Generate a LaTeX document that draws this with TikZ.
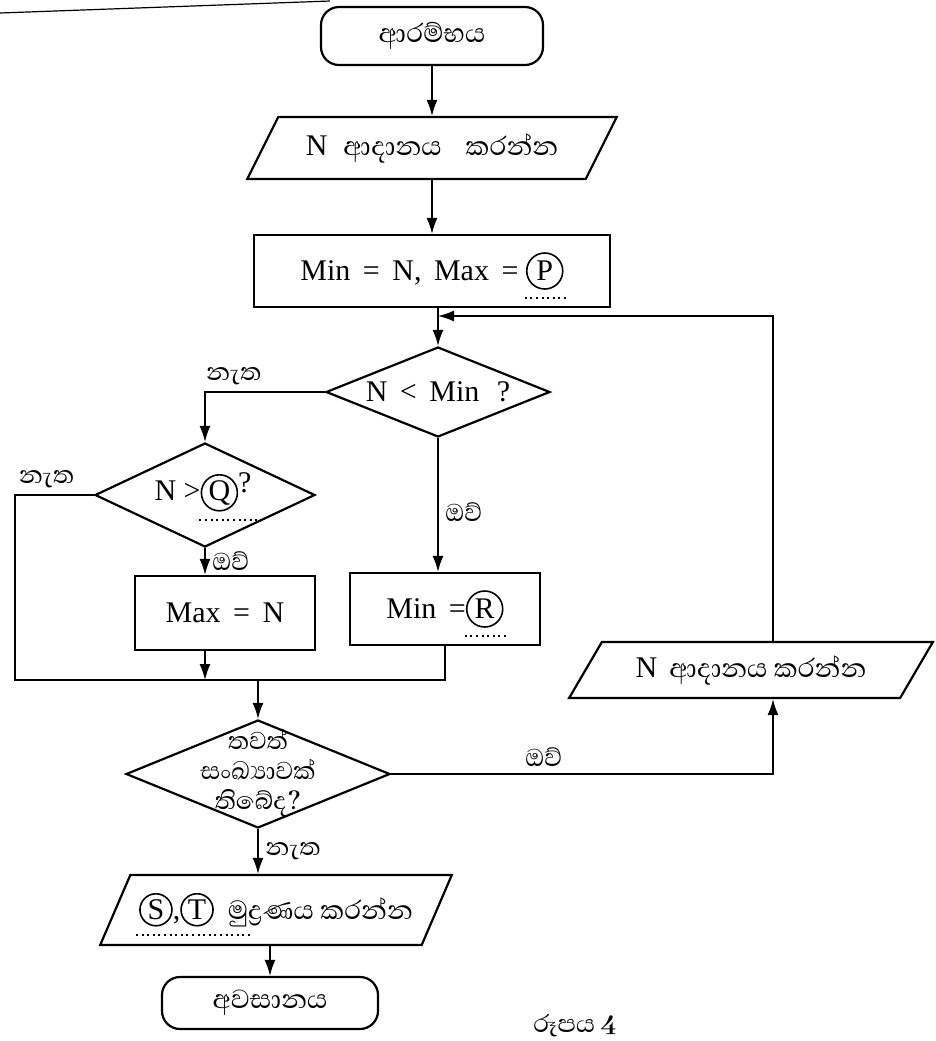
\documentclass[tikz,border=0pt]{standalone}
\usepackage{fontspec}
\setmainfont{Liberation Serif}
\newfontfamily\slfont[Script=Sinhala,Scale=1.12]{Abhaya Libre}
\usetikzlibrary{arrows.meta,shapes.geometric}

% circled answer blank with a dotted line under it
\NewDocumentCommand\blank{O{17pt} O{20pt} m}{\tikz[baseline=(bk.base)]{%
  \node[draw,circle,line width=0.8pt,inner sep=0pt,minimum size=#1] (bk) {#3};
  \draw[overlay,line width=1pt,dash pattern=on 1pt off 1.8pt] (bk.south) ++(-10pt,-4pt) -- ++(#2,0pt);}}

\begin{document}
\begin{tikzpicture}[x=0.5pt,y=-0.5pt, font=\fontsize{15}{18}\selectfont,
  >={Latex[length=8pt,width=5.5pt]}, line width=0.8pt,
  term/.style={draw,line width=1.1pt,rounded corners=9pt,minimum width=111pt,
    minimum height=29pt,font=\fontsize{15}{18}\slfont},
  iobox/.style={draw,line width=1.1pt,trapezium,trapezium left angle=58,
    trapezium right angle=122,trapezium stretches=true},
  procbox/.style={draw,line width=1.1pt},
  decbox/.style={draw,line width=1.1pt,diamond},
  sl/.style={font=\fontsize{14}{16}\slfont}]
\useasboundingbox (0,0) rectangle (936,1041);
\draw[line width=0.6pt] (0,13) -- (330,1);

\node[term] (start) at (432,36) {ආරම්භය};
\node[iobox,minimum width=185pt,minimum height=31pt] (in1) at (432,148)
  {N\hspace{8pt}{\slfont ආදානය\hspace{12pt}කරන්න}};
\node[procbox,minimum width=178pt,minimum height=36pt] (init) at (432,271)
  {Min\, =\, N,\, Max\, = \blank[18pt][22pt]{P}};
\coordinate (join) at (438,316);
\node[decbox,minimum width=112pt,minimum height=45pt] (lt) at (438,392) {};
\node (lttxt) at (438,392) {N\, <\, Min\,\, ?};
\node[decbox,minimum width=110pt,minimum height=52pt] (gt) at (205,495) {};
\node (gttxt) at (203,492) {N >\blank[18pt][30pt]{Q}\raisebox{4pt}{?}};
\node[procbox,minimum width=90pt,minimum height=37pt] (setmax) at (225,613) {Max\, =\, N};
\node[procbox,minimum width=95pt,minimum height=36pt] (setmin) at (445,609) {Min\, =\blank[18pt][22pt]{R}};
\coordinate (mergeL) at (15,680);
\node[decbox,minimum width=132pt,minimum height=54pt] (more) at (258,774) {};
\node[font=\fontsize{14}{15}\slfont,align=center] (moretxt) at (258,773)
  {තවත්\\සංඛ්^^^^200dයාවක්\\තිබේද?};
\coordinate (loopx) at (773,0);
\node[iobox,minimum width=182pt,minimum height=28pt] (in2) at (751,670)
  {N\hspace{6pt}{\slfont ආදානය කරන්න}};
\node[iobox,minimum width=176pt,minimum height=35pt] (out) at (276,910)
  {\blank[16pt][58pt]{S},\blank[16pt][0pt]{T}\hspace{7pt}{\slfont මුද්^^^^200dරණය කරන්න}};
\node[term,minimum width=108pt,minimum height=26pt] (stop) at (270,1003) {අවසානය};
\node[sl] (caption) at (575,1026) {රූපය \textbf{4}};

\draw[->] (start) -- (in1);
\draw[->] (in1) -- (init);
\draw[->] (init.south -| lt.north) -- (lt.north);
\draw[->] (loopx |- in2.north) |- (join);
\draw[->] (lt.west) -| node[sl,pos=0.38,above] (no1) {නැත} (gt.north);
\draw[->] (lt.south) -- node[sl,right,pos=0.55] (yes1) {ඔව්} (lt.south |- setmin.north);
\draw[->] (gt.south) -- node[sl,right] (yes2) {ඔව්} (gt.south |- setmax.north);
\draw (gt.west) -| node[sl,pos=0.3,above] (no2) {නැත} (mergeL) -- (mergeL -| setmin.south) -- (setmin.south);
\draw[->] (gt.south |- setmax.south) -- (gt.south |- mergeL);
\draw[->] (mergeL -| more.north) -- (more.north);
\draw[->] (more.east) -| node[sl,pos=0.2,above] (yes3) {ඔව්} (loopx |- in2.south);
\draw[->] (more.south) -- node[sl,right] (no3) {නැත} (more.south |- out.north);
\draw[->] (stop.north |- out.south) -- (stop.north);
\end{tikzpicture}
\end{document}
